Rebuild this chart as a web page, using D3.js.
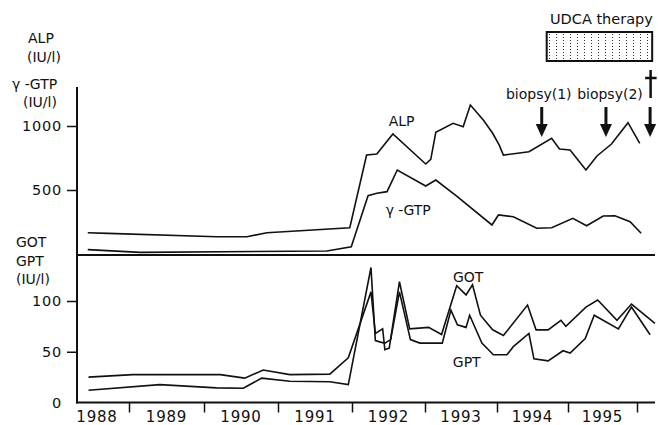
<!DOCTYPE html>
<html>
<head>
<meta charset="utf-8">
<script src="https://cdn.jsdelivr.net/npm/d3@7"></script>
<style>
  body { margin: 0; background: #fff; }
  svg text { font-family: "DejaVu Sans", sans-serif; fill: #111; }
</style>
</head>
<body>
<svg class="labChart" width="658" height="425"></svg>
<script>
// series as [year, value] pairs
const alpData = [
  [1988.45, 166], [1988.72, 161], [1990.17, 135], [1990.58, 135], [1990.85, 166],
  [1991.97, 205], [1992.20, 773], [1992.34, 781], [1992.56, 938], [1993.01, 703],
  [1993.08, 740], [1993.15, 951], [1993.39, 1021], [1993.53, 995], [1993.63, 1164],
  [1993.81, 1047], [1993.94, 943], [1994.03, 852], [1994.09, 773], [1994.45, 799],
  [1994.77, 904], [1994.88, 820], [1995.03, 812], [1995.26, 656], [1995.42, 766],
  [1995.63, 859], [1995.87, 1026], [1995.97, 930], [1996.04, 865]
];

const gtpData = [
  [1988.45, 34], [1989.15, 13], [1991.66, 23], [1991.99, 57], [1992.22, 455],
  [1992.34, 474], [1992.48, 487], [1992.62, 656], [1993.01, 531], [1993.15, 578],
  [1993.44, 453], [1993.93, 227], [1994.02, 305], [1994.23, 291], [1994.56, 201],
  [1994.77, 205], [1995.07, 279], [1995.27, 221], [1995.51, 297], [1995.68, 299],
  [1995.90, 252], [1996.06, 162]
];

const gotData = [
  [1988.46, 25], [1989.05, 27.5], [1990.22, 27.5], [1990.55, 24], [1990.80, 32],
  [1991.16, 27.5], [1991.70, 28], [1991.95, 44], [1992.26, 109], [1992.32, 68],
  [1992.42, 72.5], [1992.45, 52], [1992.51, 53.6], [1992.65, 119], [1992.79, 72.5],
  [1993.05, 74], [1993.23, 67], [1993.44, 115], [1993.57, 106], [1993.66, 116],
  [1993.77, 86], [1993.94, 71.6], [1994.09, 66], [1994.43, 96], [1994.55, 71.6],
  [1994.72, 71.6], [1994.90, 81], [1994.97, 75], [1995.26, 94], [1995.43, 101],
  [1995.71, 81], [1995.92, 97], [1996.26, 78]
];

const gptData = [
  [1988.46, 12], [1989.41, 17.6], [1990.17, 14.4], [1990.53, 14], [1990.78, 24],
  [1991.16, 21], [1991.70, 20.5], [1991.95, 17.6], [1992.26, 133], [1992.32, 61],
  [1992.39, 59.5], [1992.45, 58.5], [1992.53, 62], [1992.65, 109], [1992.80, 62],
  [1992.93, 58.5], [1993.24, 58.5], [1993.36, 91], [1993.45, 76.5], [1993.57, 74],
  [1993.62, 86], [1993.79, 58.5], [1993.95, 47], [1994.14, 47], [1994.23, 55],
  [1994.45, 68], [1994.52, 43], [1994.72, 41], [1994.93, 51], [1995.03, 48.7],
  [1995.25, 63], [1995.38, 86], [1995.73, 72.5], [1995.92, 94], [1996.19, 66.7]
];

// year boundaries and labels
const yearBounds = [1988, 1989, 1990, 1991, 1992, 1993, 1994, 1995, 1996];
const yearLabels = [1988, 1989, 1990, 1991, 1992, 1993, 1994, 1995];

// ticks on the two panels
const topTicks = [500, 1000];
const lowTicks = [0, 50, 100];

// events
const biopsies = [
  {label: 'biopsy(1)', date: 1994.63},
  {label: 'biopsy(2)', date: 1995.55}
];
const deathDate = 1996.19;
const udcaPeriod = [1994.70, 1996.22];

// layout
const axisX = 77;
const rightX = 655;
const axisTop = 87;
const sepY = 255;
const baseY = 402.5;

const svg = d3.select('svg.labChart');

// the drawing was made with slightly uneven years, so use a polylinear scale
const x = d3.scaleLinear()
            .domain(yearBounds)
            .range([54, 129, 204, 278, 352, 425, 497, 568, 637]);

const yTop = d3.scaleLinear().domain([0, 1000]).range([254, 126]);
const yLow = d3.scaleLinear().domain([0, 100]).range([baseY, 301]);

const lineTop = d3.line().x(d => x(d[0])).y(d => yTop(d[1]));
const lineLow = d3.line().x(d => x(d[0])).y(d => yLow(d[1]));

// frame: y axis, separator, x axis
const frame = svg.append('g').attr('class', 'frame')
  .style('stroke', '#111')
  .style('stroke-width', '2px');

frame.append('line')
  .attr('x1', axisX).attr('x2', axisX)
  .attr('y1', axisTop).attr('y2', baseY + 1);

frame.append('line')
  .attr('x1', axisX).attr('x2', rightX)
  .attr('y1', sepY).attr('y2', sepY);

frame.append('line')
  .attr('x1', axisX - 1).attr('x2', rightX)
  .attr('y1', baseY).attr('y2', baseY);

// y axes
const topAxis = svg.append('g')
  .attr('transform', `translate(${axisX},0)`)
  .call(d3.axisLeft(yTop).tickValues(topTicks).tickSize(10).tickPadding(5).tickFormat(d3.format('d')));

const lowAxis = svg.append('g')
  .attr('transform', `translate(${axisX},0)`)
  .call(d3.axisLeft(yLow).tickValues(lowTicks).tickSize(10).tickPadding(5).tickFormat(d3.format('d')));

[topAxis, lowAxis].forEach(ax => {
  ax.select('.domain').remove();
  ax.selectAll('.tick line').style('stroke', '#111').style('stroke-width', '1.5px');
  ax.selectAll('.tick text')
    .style('font-size', '14.5px')
    .style('letter-spacing', '0.8px')
    .style('font-family', '"DejaVu Sans", sans-serif')
    .attr('fill', '#111');
});
lowAxis.selectAll('.tick').filter(d => d === 0).select('line').remove();

// x axis ticks at year boundaries
const xAxis = svg.append('g')
  .attr('transform', `translate(0,${baseY})`)
  .call(d3.axisBottom(x).tickValues(yearBounds.slice(1)).tickSize(10).tickFormat(''));
xAxis.select('.domain').remove();
xAxis.selectAll('.tick line').style('stroke', '#111').style('stroke-width', '1.5px');

// year labels in the middle of each year
svg.append('g').selectAll('text.year')
  .data(yearLabels)
  .enter()
  .append('text')
  .attr('class', 'year')
  .attr('x', d => Math.max(x(d + 0.5), axisX + 20))
  .attr('y', 422)
  .attr('text-anchor', 'middle')
  .style('font-size', '15px')
  .style('letter-spacing', '0.8px')
  .text(d => d);

// unit labels
const unitLabels = [
  {t: 'ALP', x: 28, y: 43},
  {t: '(IU/l)', x: 27, y: 62},
  {t: 'γ -GTP', x: 12, y: 89},
  {t: '(IU/l)', x: 23, y: 107},
  {t: 'GOT', x: 16, y: 247},
  {t: 'GPT', x: 16, y: 266},
  {t: '(IU/l)', x: 16, y: 284}
];
svg.append('g').selectAll('text.unit')
  .data(unitLabels)
  .enter()
  .append('text')
  .attr('class', 'unit')
  .attr('x', d => d.x)
  .attr('y', d => d.y)
  .style('font-size', '14px')
  .text(d => d.t);

// data lines
const lines = svg.append('g').attr('class', 'lines')
  .style('fill', 'none')
  .style('stroke', '#111')
  .style('stroke-width', '1.6px')
  .style('stroke-linejoin', 'miter');

lines.append('path').datum(alpData).attr('d', lineTop);
lines.append('path').datum(gtpData).attr('d', lineTop);
lines.append('path').datum(gotData).attr('d', lineLow);
lines.append('path').datum(gptData).attr('d', lineLow);

// series labels
const seriesLabels = [
  {t: 'ALP', x: x(1992.68), y: yTop(1000)},
  {t: 'γ -GTP', x: x(1992.77), y: yTop(305)},
  {t: 'GOT', x: x(1993.6), y: yLow(119)},
  {t: 'GPT', x: x(1993.58), y: yLow(35)}
];
svg.append('g').selectAll('text.series')
  .data(seriesLabels)
  .enter()
  .append('text')
  .attr('class', 'series')
  .attr('x', d => d.x)
  .attr('y', d => d.y)
  .attr('text-anchor', 'middle')
  .style('font-size', '14px')
  .text(d => d.t);

// UDCA therapy box with dotted fill
const defs = svg.append('defs');
const pat = defs.append('pattern')
  .attr('id', 'udcaDots')
  .attr('patternUnits', 'userSpaceOnUse')
  .attr('x', 0).attr('y', 0)
  .attr('width', 7)
  .attr('height', 3);
pat.append('rect')
  .attr('x', 3).attr('y', 1)
  .attr('width', 1).attr('height', 1)
  .attr('shape-rendering', 'crispEdges')
  .attr('fill', '#333');

svg.append('rect')
  .attr('x', x(udcaPeriod[0]))
  .attr('y', 32)
  .attr('width', x(udcaPeriod[1]) - x(udcaPeriod[0]))
  .attr('height', 29)
  .style('fill', 'url(#udcaDots)')
  .style('stroke', '#111')
  .style('stroke-width', '2px');

svg.append('text')
  .attr('x', (x(udcaPeriod[0]) + x(udcaPeriod[1])) / 2 + 2)
  .attr('y', 24)
  .attr('text-anchor', 'middle')
  .style('font-size', '14.5px')
  .text('UDCA therapy');

// arrows for biopsies and death
function drawArrow(g, cx){
  g.append('line')
    .attr('x1', cx).attr('x2', cx)
    .attr('y1', 107).attr('y2', 126)
    .style('stroke', '#111')
    .style('stroke-width', '3px');
  g.append('path')
    .attr('d', `M${cx - 6},124 L${cx + 6},124 L${cx},137 Z`)
    .style('fill', '#111');
}

const marks = svg.append('g').attr('class', 'marks');
biopsies.forEach((b, i) => {
  drawArrow(marks, x(b.date));
  // push the two labels apart a little so they do not touch
  marks.append('text')
    .attr('x', x(b.date) + (i === 0 ? -3 : 4))
    .attr('y', 99)
    .attr('text-anchor', 'middle')
    .style('font-size', '14px')
    .text(b.label);
});
drawArrow(marks, x(deathDate));

// dagger above the last arrow
const dx = x(deathDate) + 0.5;
marks.append('line')
  .attr('x1', dx).attr('x2', dx)
  .attr('y1', 70).attr('y2', 98)
  .style('stroke', '#111').style('stroke-width', '2.5px');
marks.append('line')
  .attr('x1', dx - 5.5).attr('x2', dx + 6)
  .attr('y1', 78).attr('y2', 78)
  .style('stroke', '#111').style('stroke-width', '2.5px');
</script>
</body>
</html>
